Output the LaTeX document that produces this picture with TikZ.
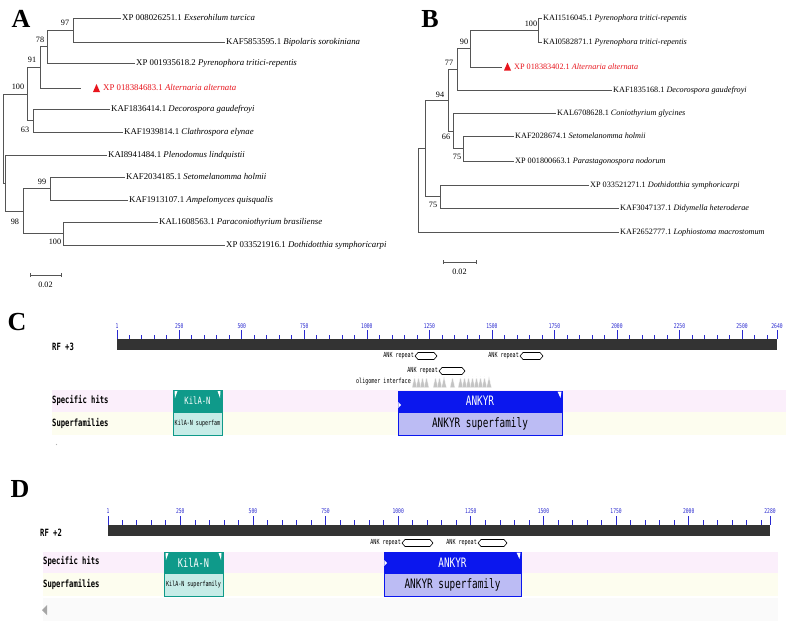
\documentclass[tikz,border=0pt]{standalone}
\usepackage{fontspec}
\setmainfont{Liberation Serif}
\newfontfamily\cdf[FakeStretch=0.72]{DejaVu Sans Mono}
\newcommand\setfs[1]{\fontsize{#1}{#1}\selectfont}
\definecolor{treegray}{HTML}{555555}
\definecolor{altred}{HTML}{E8141C}
\definecolor{rulerblue}{HTML}{2A2AD0}
\definecolor{bardark}{HTML}{333333}
\definecolor{pinkband}{HTML}{FBEFFB}
\definecolor{yellowband}{HTML}{FDFDEF}
\definecolor{tealc}{HTML}{0F9A8A}
\definecolor{lightteal}{HTML}{C6ECE7}
\definecolor{ankblue}{HTML}{0B17EE}
\definecolor{lavc}{HTML}{BCBCF4}
\definecolor{oligc}{HTML}{C4C4C4}
\newcommand\ankhex[3]{\draw[hexs] (#1,#3) -- ({#1+3},{#3-3.5}) -- ({#2-3},{#3-3.5}) -- (#2,#3) -- ({#2-3},{#3+3.5}) -- ({#1+3},{#3+3.5}) -- cycle;}
\begin{document}
\begin{tikzpicture}[x=1pt,y=-1pt,
  br/.style={draw=treegray, line width=0.9pt},
  leafA/.style={anchor=west, inner xsep=1pt, inner ysep=0pt, text height=6pt, text depth=0.5pt, font=\setfs{8.8}},
  leafB/.style={leafA, font=\setfs{8.2}},
  bs/.style={inner sep=0pt, font=\setfs{8.2}},
  plet/.style={font=\bfseries\setfs{26}, inner sep=0pt},
  cdlab/.style={anchor=west, inner sep=0pt, font=\cdf\bfseries\setfs{10}},
  num/.style={text=rulerblue, inner sep=0pt, font=\cdf\setfs{6.5}},
  tickc/.style={draw=rulerblue, line width=0.7pt},
  annot/.style={anchor=east, inner sep=0pt, font=\cdf\setfs{7}},
  hexs/.style={draw=black, fill=white, line width=0.6pt},
  sbar/.style={draw=treegray, line width=0.8pt},
  notch/.style={fill=white},
  boxtxt/.style={inner sep=0pt}
]
\useasboundingbox (0,0) rectangle (800,621);
\fill[white] (0,0) rectangle (800,621);

% ---------------- Panel letters
\node[plet] (LA) at (21,19) {A};
\node[plet] (LB) at (430,19) {B};
\node[plet] (LC) at (17,322) {C};
\node[plet] (LD) at (20,489) {D};

% ---------------- Tree A
\node[leafA] (a1) at (121,18) {XP 008026251.1 \textit{Exserohilum turcica}};
\node[leafA] (a2) at (225,42) {KAF5853595.1 \textit{Bipolaris sorokiniana}};
\node[leafA] (a3) at (135,63) {XP 001935618.2 \textit{Pyrenophora tritici-repentis}};
\node[leafA, text=altred] (a4) at (102,88) {XP 018384683.1 \textit{Alternaria alternata}};
\node[leafA] (a5) at (110,109) {KAF1836414.1 \textit{Decorospora gaudefroyi}};
\node[leafA] (a6) at (123,132) {KAF1939814.1 \textit{Clathrospora elynae}};
\node[leafA] (a7) at (107,155) {KAI8941484.1 \textit{Plenodomus lindquistii}};
\node[leafA] (a8) at (125,177) {KAF2034185.1 \textit{Setomelanomma holmii}};
\node[leafA] (a9) at (128,200) {KAF1913107.1 \textit{Ampelomyces quisqualis}};
\node[leafA] (a10) at (158,222) {KAL1608563.1 \textit{Paraconiothyrium brasiliense}};
\node[leafA] (a11) at (225,245) {XP 033521916.1 \textit{Dothidotthia symphoricarpi}};
\coordinate (a4end) at (81,88);
\fill[altred] (93,92) -- (100,92) -- (96.5,84) -- cycle;

\coordinate (n97) at (73,30);
\coordinate (n78) at (47,46.5);
\coordinate (n91) at (40,67);
\coordinate (n63) at (33,120.5);
\coordinate (n100) at (27,94);
\coordinate (n99) at (50,188.5);
\coordinate (n100b) at (63,233.5);
\coordinate (n98) at (23,211);
\coordinate (nP) at (5,183);
\coordinate (nroot) at (3,138.5);

\draw[br] (n97) |- (a1.west);
\draw[br] (n97) |- (a2.west);
\draw[br] (n78) |- (n97);
\draw[br] (n78) |- (a3.west);
\draw[br] (n91) |- (n78);
\draw[br] (n91) |- (a4end);
\draw[br] (n63) |- (a5.west);
\draw[br] (n63) |- (a6.west);
\draw[br] (n100) |- (n91);
\draw[br] (n100) |- (n63);
\draw[br] (n99) |- (a8.west);
\draw[br] (n99) |- (a9.west);
\draw[br] (n100b) |- (a10.west);
\draw[br] (n100b) |- (a11.west);
\draw[br] (n98) |- (n99);
\draw[br] (n98) |- (n100b);
\draw[br] (nP) |- (a7.west);
\draw[br] (nP) |- (n98);
\draw[br] (nroot) |- (n100);
\draw[br] (nroot) |- (nP);

\node[bs] (s97) at (65,23) {97};
\node[bs] (s78) at (40,40) {78};
\node[bs] (s91) at (32,60) {91};
\node[bs] (s100) at (18,87) {100};
\node[bs] (s63) at (25,130) {63};
\node[bs] (s99) at (42,182) {99};
\node[bs] (s98) at (15,222) {98};
\node[bs] (s100b) at (55,242) {100};

\coordinate (sa1) at (30,275);
\coordinate (sa2) at (61,275);
\draw[sbar] (sa1) -- (sa2);
\draw[sbar] ([yshift=-2pt]sa1) -- ([yshift=2pt]sa1);
\draw[sbar] ([yshift=-2pt]sa2) -- ([yshift=2pt]sa2);
\node[bs] (sal) at (45.5,285) {0.02};

% ---------------- Tree B
\node[leafB] (b1) at (542,18) {KAI1516045.1 \textit{Pyrenophora tritici-repentis}};
\node[leafB] (b2) at (542,42) {KAI0582871.1 \textit{Pyrenophora tritici-repentis}};
\node[leafB, text=altred] (b3) at (513,67) {XP 018383402.1 \textit{Alternaria alternata}};
\node[leafB] (b4) at (612,90) {KAF1835168.1 \textit{Decorospora gaudefroyi}};
\node[leafB] (b5) at (556,113) {KAL6708628.1 \textit{Coniothyrium glycines}};
\node[leafB] (b6) at (514,136) {KAF2028674.1 \textit{Setomelanomma holmii}};
\node[leafB] (b7) at (514,161) {XP 001800663.1 \textit{Parastagonospora nodorum}};
\node[leafB] (b8) at (589,185) {XP 033521271.1 \textit{Dothidotthia symphoricarpi}};
\node[leafB] (b9) at (619,208) {KAF3047137.1 \textit{Didymella heteroderae}};
\node[leafB] (b10) at (619,232) {KAF2652777.1 \textit{Lophiostoma macrostomum}};
\coordinate (b3end) at (502,67);
\fill[altred] (504,70.5) -- (511,70.5) -- (507.5,62.5) -- cycle;

\coordinate (m100) at (538,30);
\coordinate (m90) at (470,48.5);
\coordinate (m77) at (457,69);
\coordinate (m75a) at (463,148.5);
\coordinate (m66) at (453,131);
\coordinate (m94) at (448,100);
\coordinate (m75b) at (440,196.5);
\coordinate (mX) at (425,148);
\coordinate (mroot) at (418,190);

\draw[br] (m100) |- (b1.west);
\draw[br] (m100) |- (b2.west);
\draw[br] (m90) |- (m100);
\draw[br] (m90) |- (b3end);
\draw[br] (m77) |- (m90);
\draw[br] (m77) |- (b4.west);
\draw[br] (m75a) |- (b6.west);
\draw[br] (m75a) |- (b7.west);
\draw[br] (m66) |- (b5.west);
\draw[br] (m66) |- (m75a);
\draw[br] (m94) |- (m77);
\draw[br] (m94) |- (m66);
\draw[br] (m75b) |- (b8.west);
\draw[br] (m75b) |- (b9.west);
\draw[br] (mX) |- (m94);
\draw[br] (mX) |- (m75b);
\draw[br] (mroot) |- (mX);
\draw[br] (mroot) |- (b10.west);

\node[bs] (t100) at (531,24) {100};
\node[bs] (t90) at (464,42) {90};
\node[bs] (t77) at (449,63) {77};
\node[bs] (t94) at (440,95) {94};
\node[bs] (t66) at (446,137) {66};
\node[bs] (t75a) at (457,157) {75};
\node[bs] (t75b) at (433,205) {75};

\coordinate (sb1) at (443,262);
\coordinate (sb2) at (476,262);
\draw[sbar] (sb1) -- (sb2);
\draw[sbar] ([yshift=-2pt]sb1) -- ([yshift=2pt]sb1);
\draw[sbar] ([yshift=-2pt]sb2) -- ([yshift=2pt]sb2);
\node[bs] (sbl) at (459.5,272) {0.02};

% ---------------- Panel C
\fill[pinkband] (52,390) rectangle (786,412);
\fill[yellowband] (52,412) rectangle (786,435);
\node[cdlab] (crf) at (52,347) {RF +3};
\node[cdlab] (csh) at (52,400) {Specific hits};
\node[cdlab] (csf) at (52,423) {Superfamilies};
\fill[bardark] (117,339) rectangle (777,350);
\draw[tickc] (117,330) -- (117,339);
\node[num] (cn1) at (117,326) {1};
\foreach \n in {50,100,...,2600} {
  \pgfmathsetmacro\xx{117+(\n-1)*0.2501}
  \pgfmathtruncatemacro\isM{mod(\n,250)==0}
  \ifnum\isM=1
    \draw[tickc] (\xx,330) -- (\xx,339);
    \node[num] (cn\n) at (\xx,326) {\n};
  \else
    \draw[tickc] (\xx,335) -- (\xx,339);
  \fi
}
\draw[tickc] (777,330) -- (777,339);
\node[num] (cnend) at (777,326) {2640};

\node[annot] (ca1) at (414,356) {ANK repeat};
\ankhex{415}{437}{356}
\node[annot] (ca2) at (519,356) {ANK repeat};
\ankhex{520}{543}{356}
\node[annot] (ca3) at (438,371) {ANK repeat};
\ankhex{439}{465}{371}
\node[annot] (colig) at (411,382) {oligomer interface};
\foreach \p in {414.5,418.5,422.5,426.5,435.5,439.5,444,452.5,460.5,464.5,468.5,472.5,476.5,480.5,484.5,489} {
  \filldraw[fill=oligc, draw=white, line width=0.3pt] (\p-2.5,387.5) -- (\p,376.5) -- (\p+2.5,387.5) -- cycle;
}

\filldraw[fill=tealc, draw=tealc] (173,390) rectangle (222,412);
\fill[notch] (174.5,391) -- (177.5,391) -- (175,398) -- cycle;
\fill[notch] (220.5,391) -- (217.5,391) -- (220,398) -- cycle;
\node[boxtxt, text=white, font=\cdf\setfs{10}] (ckil) at (197.5,401) {KilA-N};
\filldraw[fill=lightteal, draw=tealc, line width=0.7pt] (173,412) rectangle (222,435);
\node[boxtxt, font=\cdf\setfs{7}] (ckils) at (197.5,423.5) {KilA-N superfam};

\filldraw[fill=ankblue, draw=ankblue] (398,391) rectangle (562,412);
\fill[notch] (557.5,391.5) -- (561.5,391.5) -- (560.5,398) -- cycle;
\fill[notch] (398.3,402) -- (401,405) -- (398.3,408) -- cycle;
\node[boxtxt, text=white, font=\cdf\setfs{13}] (cank) at (480,401) {ANKYR};
\filldraw[fill=lavc, draw=ankblue, line width=0.8pt] (398,412) rectangle (562,435);
\node[boxtxt, font=\cdf\setfs{13}] (canks) at (480,423.5) {ANKYR superfamily};
\fill[gray!60] (56.5,444.5) circle (0.7pt);

% ---------------- Panel D
\fill[pinkband] (43,552) rectangle (778,573);
\fill[yellowband] (43,573) rectangle (778,596);
\fill[gray!4] (43,598) rectangle (778,621);
\fill[gray!70] (42,610) -- (47,605) -- (47,615) -- cycle;
\node[cdlab] (drf) at (40,533) {RF +2};
\node[cdlab] (dsh) at (43,561) {Specific hits};
\node[cdlab] (dsf) at (43,584) {Superfamilies};
\fill[bardark] (108,525) rectangle (770,536);
\draw[tickc] (108,516) -- (108,525);
\node[num] (dn1) at (108,511.5) {1};
\foreach \n in {50,100,...,2250} {
  \pgfmathsetmacro\xx{108+(\n-1)*0.2905}
  \pgfmathtruncatemacro\isM{(mod(\n,250)==0) && (\n<2250)}
  \ifnum\isM=1
    \draw[tickc] (\xx,516) -- (\xx,525);
    \node[num] (dn\n) at (\xx,511.5) {\n};
  \else
    \draw[tickc] (\xx,520) -- (\xx,525);
  \fi
}
\draw[tickc] (770,516) -- (770,525);
\node[num] (dnend) at (770,511.5) {2280};

\node[annot] (da1) at (401,543) {ANK repeat};
\ankhex{402}{433}{543}
\node[annot] (da2) at (477,543) {ANK repeat};
\ankhex{478}{507}{543}

\filldraw[fill=tealc, draw=tealc] (164,552) rectangle (223,573);
\fill[notch] (165.5,553) -- (168.5,553) -- (166,560) -- cycle;
\fill[notch] (221.5,553) -- (218.5,553) -- (221,560) -- cycle;
\node[boxtxt, text=white, font=\cdf\setfs{12}] (dkil) at (193.5,562.5) {KilA-N};
\filldraw[fill=lightteal, draw=tealc, line width=0.7pt] (164,573) rectangle (223,596);
\node[boxtxt, font=\cdf\setfs{7}] (dkils) at (193.5,585) {KilA-N superfamily};

\filldraw[fill=ankblue, draw=ankblue] (384,552) rectangle (521,573);
\fill[notch] (516.5,552.5) -- (520.5,552.5) -- (519.5,559) -- cycle;
\fill[notch] (384.3,560) -- (387,563) -- (384.3,566) -- cycle;
\node[boxtxt, text=white, font=\cdf\setfs{13}] (dank) at (452.5,562.5) {ANKYR};
\filldraw[fill=lavc, draw=ankblue, line width=0.8pt] (384,573) rectangle (521,596);
\node[boxtxt, font=\cdf\setfs{13}] (danks) at (452.5,585) {ANKYR superfamily};
\end{tikzpicture}
\end{document}
